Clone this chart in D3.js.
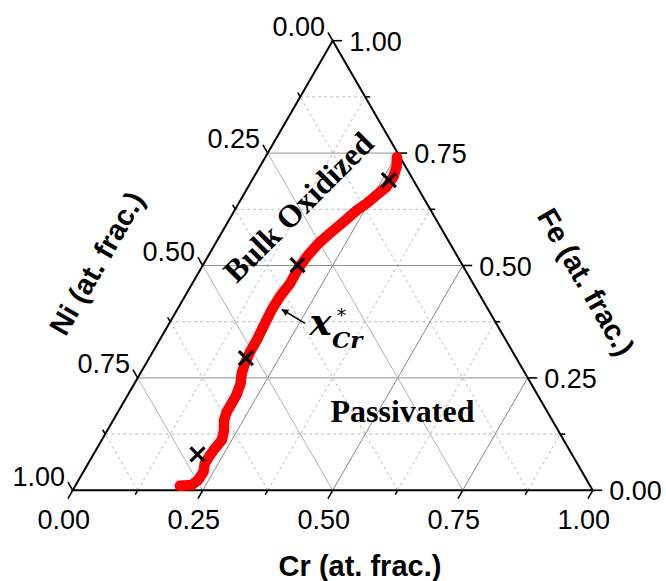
<!DOCTYPE html>
<html>
<head>
<meta charset="utf-8">
<script src="https://cdn.jsdelivr.net/npm/d3@7"></script>
<style>
  html, body { margin: 0; padding: 0; background: #fff; }
  svg { display: block; }
</style>
</head>
<body>
<svg id="chart" width="666" height="581"></svg>
<script>
// ---- data (ternary fractions: Cr, Fe; Ni = 1 - Cr - Fe) ----
const curveCr = [0.201,0.223,0.230,0.231,0.224,0.225,0.227,0.231,0.224,0.213,0.209,0.209,0.209,0.204,0.195,0.190,0.187,0.187,0.184,0.182,0.183,0.188,0.187,0.191,0.198,0.209,0.222,0.235,0.246,0.256,0.266,0.268,0.263,0.253];
const curveFe = [0.010,0.012,0.023,0.041,0.060,0.079,0.093,0.112,0.134,0.156,0.175,0.194,0.212,0.238,0.260,0.283,0.308,0.334,0.371,0.401,0.431,0.460,0.494,0.523,0.549,0.572,0.597,0.623,0.638,0.657,0.675,0.698,0.720,0.741];
const markerCr = [0.200, 0.186, 0.182, 0.263];
const markerFe = [0.080, 0.294, 0.501, 0.690];
const majorTicks = [0, 0.25, 0.5, 0.75, 1];
const tickLabels = ["0.00", "0.25", "0.50", "0.75", "1.00"];
const minorTicks = [0.125, 0.375, 0.625, 0.875];
const gridValues = [0.125, 0.25, 0.375, 0.5, 0.625, 0.75, 0.875];
const axisTitles = ["Cr (at. frac.)", "Ni (at. frac.)", "Fe (at. frac.)"];
const regionLabels = ["Bulk Oxidized", "Passivated"];

// ---- scales ----
const sx = d3.scaleLinear().domain([0, 1]).range([72.7, 592.7]);
const sy = d3.scaleLinear().domain([0, 1]).range([490.3, 40.7]);
const P = (cr, fe) => [sx(cr + fe / 2), sy(fe)];

const svg = d3.select("#chart");
const SANS = "'Liberation Sans', Arial, sans-serif";
const SERIF = "'Liberation Serif', 'Times New Roman', serif";

// ---- grid ----
const isMajor = v => Math.abs(v * 4 - Math.round(v * 4)) < 1e-9;
const grid = svg.append("g");
gridValues.forEach(v => {
  const major = isMajor(v);
  const segs = [
    [P(0, v), P(1 - v, v), "#909090"],          // constant Fe
    [P(v, 0), P(v, 1 - v), "#888888"],          // constant Cr
    [P(1 - v, 0), P(0, 1 - v), "#b4b4b4"]       // constant Ni
  ];
  segs.forEach(([a, b, c]) => {
    grid.append("line")
      .attr("x1", a[0]).attr("y1", a[1]).attr("x2", b[0]).attr("y2", b[1])
      .attr("stroke", major ? c : "#bcbcbc")
      .attr("stroke-width", 1)
      .attr("stroke-dasharray", major ? null : "3,3");
  });
});

// ---- triangle frame ----
const A = P(0, 0), B = P(1, 0), C = P(0, 1);
svg.append("path")
  .attr("d", `M${A}L${B}L${C}Z`)
  .attr("fill", "none").attr("stroke", "#000").attr("stroke-width", 2)
  .attr("stroke-linejoin", "miter");

// ---- ticks ----
const ticks = svg.append("g").attr("stroke", "#000").attr("stroke-width", 1.6);
const labels = svg.append("g").attr("font-family", SANS).attr("font-size", 27).attr("fill", "#000");
const allTicks = majorTicks.concat(minorTicks);
const c60 = 0.5, s60 = Math.sqrt(3) / 2;
allTicks.forEach(v => {
  const len = isMajor(v) ? 9.5 : 5;
  let p = P(v, 0);
  ticks.append("line").attr("x1", p[0]).attr("y1", p[1]).attr("x2", p[0] - c60 * len).attr("y2", p[1] + s60 * len);
  p = P(0, 1 - v);
  ticks.append("line").attr("x1", p[0]).attr("y1", p[1]).attr("x2", p[0] - c60 * len).attr("y2", p[1] - s60 * len);
  p = P(1 - v, v);
  ticks.append("line").attr("x1", p[0]).attr("y1", p[1]).attr("x2", p[0] + len).attr("y2", p[1]);
});
majorTicks.forEach((v, i) => {
  const t = tickLabels[i];
  let p = P(v, 0);
  labels.append("text").attr("x", p[0] - 9).attr("y", 528.5).attr("text-anchor", "middle").text(t);
  p = P(0, 1 - v);
  labels.append("text").attr("x", p[0] - c60 * 9.5 - 3).attr("y", p[1] - s60 * 9.5 + 3.5).attr("text-anchor", "end").text(t);
  p = P(1 - v, v);
  labels.append("text").attr("x", p[0] + 16.5).attr("y", p[1] + 10).attr("text-anchor", "start").text(t);
});

// ---- axis titles ----
const titles = svg.append("g").attr("font-family", SANS).attr("font-size", 29).attr("font-weight", "bold");
titles.append("text").attr("x", 360).attr("y", 576).attr("text-anchor", "middle").text(axisTitles[0]);
titles.append("text").attr("text-anchor", "middle").attr("dominant-baseline", "central")
  .attr("transform", "translate(96.7,263.3) rotate(-60)").text(axisTitles[1]);
titles.append("text").attr("text-anchor", "middle").attr("dominant-baseline", "central")
  .attr("transform", "translate(586,282) rotate(60)").text(axisTitles[2]);

// ---- curve ----
const pts = curveCr.map((c, i) => P(c, curveFe[i]));
svg.append("path")
  .attr("d", d3.line()(pts))
  .attr("fill", "none").attr("stroke", "#ff0000").attr("stroke-width", 10.5)
  .attr("stroke-linecap", "round").attr("stroke-linejoin", "round");

// ---- markers ----
markerCr.forEach((c, i) => {
  const p = P(c, markerFe[i]);
  svg.append("path")
    .attr("transform", `translate(${p[0]},${p[1]})`)
    .attr("d", "M-7,-7L7,7M-7,7L7,-7")
    .attr("stroke", "#000").attr("stroke-width", 3.2).attr("fill", "none");
});

// ---- region labels ----
const reg = svg.append("g").attr("font-family", SERIF).attr("font-size", 32).attr("font-weight", "bold");
reg.append("text").attr("text-anchor", "middle").attr("dominant-baseline", "central")
  .attr("transform", "translate(298.3,207) rotate(-45)").text(regionLabels[0]);
reg.append("text").attr("x", 402.5).attr("y", 421.7).attr("text-anchor", "middle").text(regionLabels[1]);

// ---- x*_Cr annotation ----
const defs = svg.append("defs");
defs.append("marker").attr("id", "ah").attr("viewBox", "0 0 10 10")
  .attr("refX", 9).attr("refY", 5).attr("markerWidth", 9).attr("markerHeight", 7)
  .attr("markerUnits", "userSpaceOnUse").attr("orient", "auto")
  .append("path").attr("d", "M0,0L10,5L0,10Z").attr("fill", "#000");
svg.append("line").attr("x1", 305).attr("y1", 323.3).attr("x2", 282).attr("y2", 309.5)
  .attr("stroke", "#000").attr("stroke-width", 1.5).attr("marker-end", "url(#ah)");
const ann = svg.append("text").attr("font-family", "'DejaVu Serif', serif").attr("font-style", "italic").attr("font-weight", "bold");
ann.append("tspan").attr("x", 309.5).attr("y", 335).attr("font-size", 37).text("x");
ann.append("tspan").attr("x", 337).attr("y", 321.5).attr("font-size", 18).attr("font-style", "normal").attr("font-weight", "normal").text("*");
ann.append("tspan").attr("x", 332).attr("y", 347.5).attr("font-size", 23).text("Cr");
</script>
</body>
</html>
